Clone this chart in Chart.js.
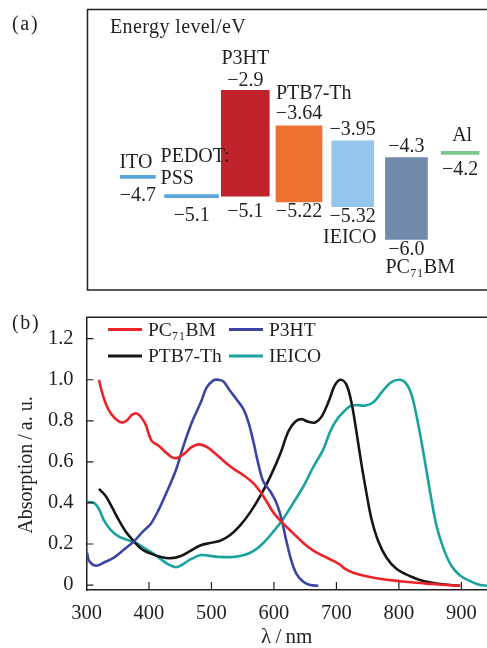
<!DOCTYPE html>
<html>
<head>
<meta charset="utf-8">
<script src="https://cdn.jsdelivr.net/npm/chart.js@4.4.1/dist/chart.umd.min.js"></script>
<style>
  html, body { margin: 0; padding: 0; background: #fff; }
  .panel { position: absolute; left: 0; }
</style>
</head>
<body>
<canvas id="levels" class="panel" width="487" height="300" style="top:0"></canvas>
<canvas id="spectra" class="panel" width="487" height="348" style="top:300px"></canvas>
<script>
// ---- (a) energy levels, eV ----
const levelNames = ['ITO', 'PEDOT:PSS', 'P3HT', 'PTB7-Th', 'IEICO', 'PC₇₁BM', 'Al'];
const lumoLevels = [null, null, -2.9, -3.64, -3.95, -4.3, null];
const homoLevels = [null, null, -5.1, -5.22, -5.32, -6.0, null];
const workFunctions = [-4.7, -5.1, null, null, null, null, -4.2];

// ---- (b) absorption spectra (normalised) ----
const pcbmNm = [320, 325, 331, 339, 349, 357, 365, 373, 381, 389, 395, 400, 405, 416, 427, 437, 445, 456, 467, 480, 493, 504, 519, 535, 551, 567, 583, 599, 615, 631, 647, 663, 679, 695, 706, 714, 727, 748, 775, 802, 828, 855, 876, 898];
const pcbmAbs = [1.0, 0.937, 0.882, 0.835, 0.803, 0.792, 0.803, 0.83, 0.835, 0.811, 0.779, 0.732, 0.70, 0.677, 0.646, 0.622, 0.619, 0.638, 0.669, 0.685, 0.672, 0.646, 0.606, 0.567, 0.535, 0.496, 0.433, 0.354, 0.299, 0.252, 0.205, 0.168, 0.142, 0.118, 0.099, 0.079, 0.06, 0.043, 0.028, 0.019, 0.011, 0.005, 0.0, -0.003];

const p3htNm = [301, 304, 315, 328, 344, 360, 376, 389, 403, 416, 429, 443, 456, 469, 483, 492, 503, 511, 519, 530, 540, 551, 559, 567, 575, 583, 594, 604, 612, 620, 628, 636, 647, 658, 671];
const p3htAbs = [0.157, 0.118, 0.094, 0.11, 0.134, 0.173, 0.213, 0.257, 0.299, 0.37, 0.457, 0.559, 0.685, 0.795, 0.89, 0.96, 0.997, 1.0, 0.992, 0.945, 0.905, 0.858, 0.795, 0.70, 0.59, 0.504, 0.457, 0.40, 0.323, 0.213, 0.118, 0.055, 0.016, 0.0, -0.003];

const ptb7Nm = [320, 331, 341, 352, 363, 376, 389, 403, 419, 435, 451, 467, 483, 498, 514, 530, 546, 562, 578, 594, 610, 623, 634, 644, 655, 666, 676, 687, 698, 707, 716, 724, 732, 740, 748, 756, 767, 780, 796, 818, 839, 860, 882, 898];
const ptb7Abs = [0.468, 0.433, 0.378, 0.315, 0.26, 0.213, 0.173, 0.153, 0.137, 0.131, 0.142, 0.168, 0.194, 0.205, 0.216, 0.244, 0.291, 0.354, 0.433, 0.527, 0.638, 0.748, 0.795, 0.808, 0.795, 0.792, 0.819, 0.89, 0.976, 1.0, 0.976, 0.89, 0.748, 0.59, 0.449, 0.323, 0.213, 0.134, 0.079, 0.043, 0.02, 0.008, 0.0, -0.003];

const ieicoNm = [301, 312, 320, 328, 339, 352, 365, 379, 392, 405, 419, 432, 443, 453, 467, 483, 498, 514, 535, 551, 567, 583, 599, 615, 631, 647, 663, 679, 690, 700, 711, 722, 732, 746, 759, 772, 786, 799, 810, 820, 828, 836, 844, 852, 860, 871, 884, 898, 914, 930, 941];
const ieicoAbs = [0.405, 0.40, 0.37, 0.315, 0.268, 0.236, 0.22, 0.205, 0.181, 0.157, 0.126, 0.099, 0.087, 0.099, 0.126, 0.146, 0.142, 0.137, 0.137, 0.145, 0.165, 0.205, 0.26, 0.323, 0.40, 0.48, 0.575, 0.661, 0.748, 0.803, 0.842, 0.871, 0.877, 0.874, 0.89, 0.937, 0.984, 1.0, 0.987, 0.929, 0.827, 0.70, 0.559, 0.417, 0.291, 0.181, 0.094, 0.047, 0.019, 0.0, -0.003];

const seriesNames = ['PC₇₁BM', 'P3HT', 'PTB7-Th', 'IEICO'];
const seriesNm = [pcbmNm, p3htNm, ptb7Nm, ieicoNm];
const seriesAbs = [pcbmAbs, p3htAbs, ptb7Abs, ieicoAbs];

const nmTicks = [300, 400, 500, 600, 700, 800, 900];
const absTicks = [0, 0.2, 0.4, 0.6, 0.8, 1.0, 1.2];

// styles
const SERIF = "'Liberation Serif', 'DejaVu Serif', serif";
const INK = '#231f20';
const levelColors = ['#5aa7dc', '#5aa7dc', '#c1232b', '#f07232', '#93c6ea', '#7189ab', '#7dc78d'];
const levelWidths = [35, 54, 48, 46, 42, 42, 38];
const seriesColors = ['#ee2229', '#3c46a2', '#161616', '#19a39c'];
const LINE_HALF = 0.032; // half thickness of the electrode lines, eV

Chart.defaults.font.family = SERIF;
Chart.defaults.color = INK;

function fmtLevel(v) {
  let s = String(Math.abs(v));
  if (s.indexOf('.') < 0) s += '.0';
  return '\u2212' + s;
}

// where each label sits relative to its bar (px)
const levelLabelPos = [
  { at: 'top', dy: [-13], align: 'center', dx: -2, up: null, down: 17 },
  { at: 'top', dy: [-38, -16], align: 'left', dx: -4, up: null, down: 18 },
  { at: 'top', dy: [-32], align: 'center', dx: 0, up: -10, down: 16 },
  { at: 'top', dy: [-32], align: 'left', dx: 0, up: -12, down: 10 },
  { at: 'bottom', dy: [31], align: 'center', dx: -3, up: -11, down: 10 },
  { at: 'bottom', dy: [28], align: 'left', dx: 0, up: -11, down: 10 },
  { at: 'top', dy: [-16], align: 'center', dx: 2, up: null, down: 15 }
];

const levelLabels = {
  id: 'levelLabels',
  afterDraw(chart) {
    const ctx = chart.ctx;
    ctx.save();
    ctx.fillStyle = INK;
    ctx.font = '20px ' + SERIF;
    ctx.textBaseline = 'middle';

    // frame (runs off the right edge like the original)
    ctx.strokeStyle = INK;
    ctx.lineWidth = 1.5;
    ctx.strokeRect(87.5, 9.5, 420, 280.5);

    ctx.textAlign = 'left';
    ctx.fillText('(\u200Aa\u200A)', 12, 25);
    ctx.letterSpacing = '0.4px';
    ctx.fillText('Energy level/eV', 110, 28);
    ctx.letterSpacing = '0px';

    levelNames.forEach((name, i) => {
      const bar = chart.getDatasetMeta(i).data[i];
      if (!bar) return;
      const top = Math.min(bar.y, bar.base);
      const bottom = Math.max(bar.y, bar.base);
      const left = bar.x - bar.width / 2;
      const p = levelLabelPos[i];
      const lines = name.split(/(?<=:)/);
      lines.forEach((line, k) => {
        const y = (p.at === 'top' ? top : bottom) + p.dy[k];
        if (p.align === 'left') {
          ctx.textAlign = 'left';
          ctx.fillText(line, left + p.dx, y);
        } else {
          ctx.textAlign = 'center';
          ctx.fillText(line, bar.x + p.dx, y);
        }
      });
      ctx.textAlign = 'center';
      if (workFunctions[i] != null) {
        ctx.fillText(fmtLevel(workFunctions[i]), bar.x, bottom + p.down);
      } else {
        ctx.fillText(fmtLevel(lumoLevels[i]), bar.x, top + p.up);
        ctx.fillText(fmtLevel(homoLevels[i]), bar.x, bottom + p.down);
      }
    });
    ctx.restore();
  }
};

new Chart(document.getElementById('levels'), {
  type: 'bar',
  data: {
    labels: levelNames,
    datasets: levelNames.map((name, i) => ({
      label: name,
      data: levelNames.map((_, j) => {
        if (j !== i) return null;
        if (workFunctions[i] != null) return [workFunctions[i] - LINE_HALF, workFunctions[i] + LINE_HALF];
        return [homoLevels[i], lumoLevels[i]];
      }),
      backgroundColor: levelColors[i],
      barThickness: levelWidths[i],
      grouped: false,
      borderWidth: 0
    }))
  },
  options: {
    responsive: false,
    animation: false,
    layout: { padding: { left: 111, right: 0, top: 9.5, bottom: 10 } },
    scales: {
      x: { type: 'category', display: false, offset: true },
      y: { type: 'linear', display: false, min: -7.05, max: -1.22 }
    },
    plugins: { legend: { display: false }, tooltip: { enabled: false } }
  },
  plugins: [levelLabels]
});

// ---- (b) ----
const spectraDecor = {
  id: 'spectraDecor',
  afterDraw(chart) {
    const { ctx, chartArea: a, scales: { x, y } } = chart;
    ctx.save();
    ctx.strokeStyle = INK;
    ctx.lineWidth = 1.2;
    ctx.beginPath();
    x.ticks.forEach(t => {
      const px = x.getPixelForValue(t.value);
      if (px <= a.left + 2) return;
      ctx.moveTo(px, a.bottom);
      ctx.lineTo(px, a.bottom - 8);
    });
    y.ticks.forEach(t => {
      const py = y.getPixelForValue(t.value);
      ctx.moveTo(a.left, py);
      ctx.lineTo(a.left + 7, py);
    });
    ctx.stroke();
    ctx.lineWidth = 1.5;
    ctx.beginPath();
    ctx.moveTo(a.left, a.top);
    ctx.lineTo(a.right + 2, a.top);
    ctx.stroke();

    ctx.fillStyle = INK;
    ctx.font = '20px ' + SERIF;
    ctx.textBaseline = 'middle';
    ctx.textAlign = 'left';
    ctx.fillText('(\u200Ab\u200A)', 12, 24);

    // y title
    ctx.save();
    ctx.translate(27, 165);
    ctx.rotate(-Math.PI / 2);
    ctx.textAlign = 'center';
    ctx.fillText('Absorption\u2009/\u2009a. u.', 0, 0);
    ctx.restore();

    // legend, two columns
    ctx.font = '19.5px ' + SERIF;
    const cols = [108, 229], rows = [29.5, 56];
    chart.data.datasets.forEach((ds, i) => {
      const lx = cols[i % 2], ly = rows[Math.floor(i / 2)];
      ctx.strokeStyle = ds.borderColor;
      ctx.lineWidth = 3;
      ctx.beginPath();
      ctx.moveTo(lx, ly);
      ctx.lineTo(lx + 34, ly);
      ctx.stroke();
      ctx.textAlign = 'left';
      ctx.fillText(ds.label, lx + 40, ly + 1);
    });
    ctx.restore();
  }
};

const tickFont = { size: 20.5, family: SERIF };

new Chart(document.getElementById('spectra'), {
  type: 'line',
  data: {
    datasets: seriesNames.map((name, i) => ({
      label: name,
      data: seriesNm[i].map((nm, k) => ({ x: nm, y: seriesAbs[i][k] })),
      borderColor: seriesColors[i],
      borderWidth: 2.6,
      pointRadius: 0,
      tension: 0.35,
      fill: false
    }))
  },
  options: {
    responsive: false,
    animation: false,
    layout: { padding: { left: 0, right: 0, top: 9, bottom: 0 } },
    scales: {
      x: {
        type: 'linear',
        min: 300,
        max: 941,
        afterBuildTicks: s => { s.ticks = nmTicks.map(v => ({ value: v })); },
        afterFit: s => { s.height = 58; },
        grid: { display: false },
        border: { color: INK, width: 1.5 },
        ticks: { font: tickFont, color: INK, padding: 3, maxRotation: 0, autoSkip: false },
        title: { display: true, text: 'λ\u2009/\u2009nm', font: { size: 21, family: SERIF, lineHeight: 1 }, color: INK, padding: 0 }
      },
      y: {
        type: 'linear',
        min: -0.024,
        max: 1.304,
        afterBuildTicks: s => { s.ticks = absTicks.map(v => ({ value: v })); },
        afterFit: s => { s.width = 86.5; },
        grid: { display: false },
        border: { color: INK, width: 1.5 },
        ticks: { font: tickFont, color: INK, padding: 5, callback: v => (v === 0 ? '0' : v.toFixed(1)) }
      }
    },
    plugins: { legend: { display: false }, tooltip: { enabled: false } }
  },
  plugins: [spectraDecor]
});
</script>
</body>
</html>
